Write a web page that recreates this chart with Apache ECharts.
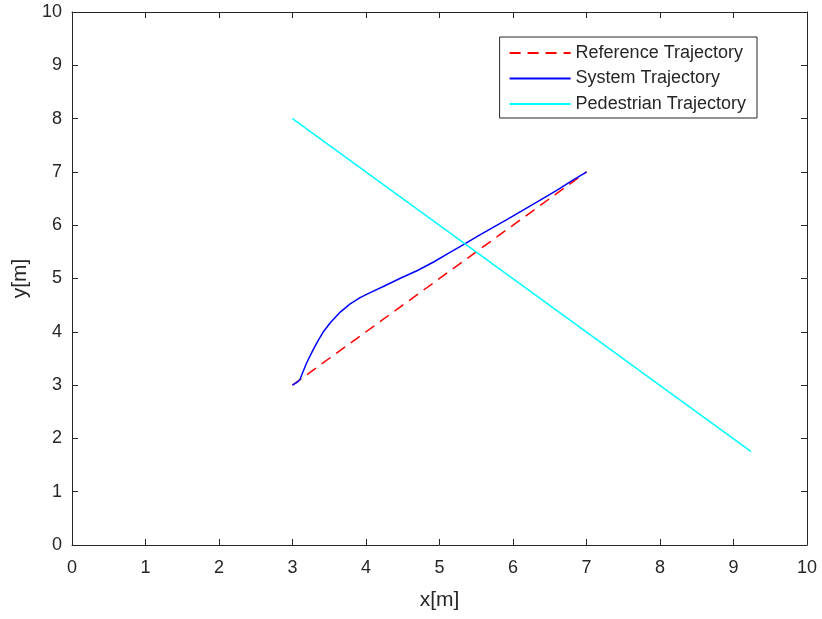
<!DOCTYPE html>
<html><head><meta charset="utf-8">
<script src="https://cdn.jsdelivr.net/npm/echarts@6/dist/echarts.min.js"></script>
<style>html,body{margin:0;padding:0;background:#fff}#c{width:822px;height:619px}</style>
</head><body><div id="c"></div>
<script>
const xTicks = [0,1,2,3,4,5,6,7,8,9,10];
const yTicks = [0,1,2,3,4,5,6,7,8,9,10];
const refX = [3, 7];
const refY = [3, 7];
const sysX = [3.00, 3.06, 3.10, 3.125, 3.19, 3.28, 3.35, 3.42, 3.52, 3.65, 3.78, 3.92, 4.05, 4.25, 4.46, 4.70, 4.92, 5.12, 5.32, 5.55, 5.91, 6.37, 6.60, 6.82, 6.98, 7.00];
const sysY = [3.00, 3.05, 3.10, 3.19, 3.41, 3.66, 3.84, 4.00, 4.18, 4.37, 4.52, 4.64, 4.73, 4.86, 5.00, 5.15, 5.31, 5.47, 5.63, 5.82, 6.10, 6.47, 6.66, 6.85, 6.98, 7.00];
const pedX = [3.0, 9.24];
const pedY = [8.0, 1.75];
const seriesNames = ['Reference Trajectory', 'System Trajectory', 'Pedestrian Trajectory'];

const zip = (a, b) => a.map((v, i) => [v, b[i]]);
const axisColor = '#262626';
const font = 'Liberation Sans, Arial, sans-serif';

const chart = echarts.init(document.getElementById('c'));
const baseAxis = {
  min: 0, max: 10, interval: 1,
  axisLine: { show: true, onZero: false, lineStyle: { color: axisColor, width: 1 } },
  axisTick: { show: true, inside: true, length: 6, lineStyle: { color: axisColor } },
  splitLine: { show: false },
};
chart.setOption({
  animation: false,
  backgroundColor: '#fff',
  grid: { left: 72, right: 15, top: 12, bottom: 74, show: false },
  xAxis: [
    Object.assign({}, baseAxis, {
      type: 'value', position: 'bottom',
      name: 'x[m]', nameLocation: 'middle', nameGap: 45,
      nameTextStyle: { color: axisColor, fontSize: 21, fontFamily: font },
      axisLabel: { color: axisColor, fontSize: 18, fontFamily: font, margin: 14,
        formatter: v => xTicks.includes(v) ? String(v) : '' }
    }),
    Object.assign({}, baseAxis, { type: 'value', position: 'top', axisLabel: { show: false } })
  ],
  yAxis: [
    Object.assign({}, baseAxis, {
      type: 'value', position: 'left',
      name: 'y[m]', nameLocation: 'middle', nameGap: 38,
      nameTextStyle: { color: axisColor, fontSize: 21, fontFamily: font },
      axisLabel: { color: axisColor, fontSize: 18, fontFamily: font, margin: 10,
        formatter: v => yTicks.includes(v) ? String(v) : '' }
    }),
    Object.assign({}, baseAxis, { type: 'value', position: 'right', axisLabel: { show: false } })
  ],
  legend: {
    orient: 'vertical', right: 65, top: 37,
    data: seriesNames,
    itemWidth: 61, itemHeight: 18, itemGap: 7.5,
    borderColor: axisColor, borderWidth: 1, padding: [7, 11, 5, 9],
    backgroundColor: '#fff',
    itemStyle: { color: 'rgba(0,0,0,0)', borderColor: 'rgba(0,0,0,0)', borderWidth: 0 },
    textStyle: { color: axisColor, fontSize: 18, fontFamily: font, lineHeight: 18 }
  },
  series: [
    { name: seriesNames[0], type: 'line', data: zip(refX, refY), symbol: 'none', showSymbol: false,
      lineStyle: { color: '#ff0000', width: 1.5, type: [11, 7] }, itemStyle: { color: '#ff0000' } },
    { name: seriesNames[1], type: 'line', data: zip(sysX, sysY), symbol: 'none', showSymbol: false,
      lineStyle: { color: '#0000ff', width: 1.5 }, itemStyle: { color: '#0000ff' } },
    { name: seriesNames[2], type: 'line', data: zip(pedX, pedY), symbol: 'none', showSymbol: false,
      lineStyle: { color: '#00ffff', width: 1.5 }, itemStyle: { color: '#00ffff' } }
  ]
});
</script></body></html>
